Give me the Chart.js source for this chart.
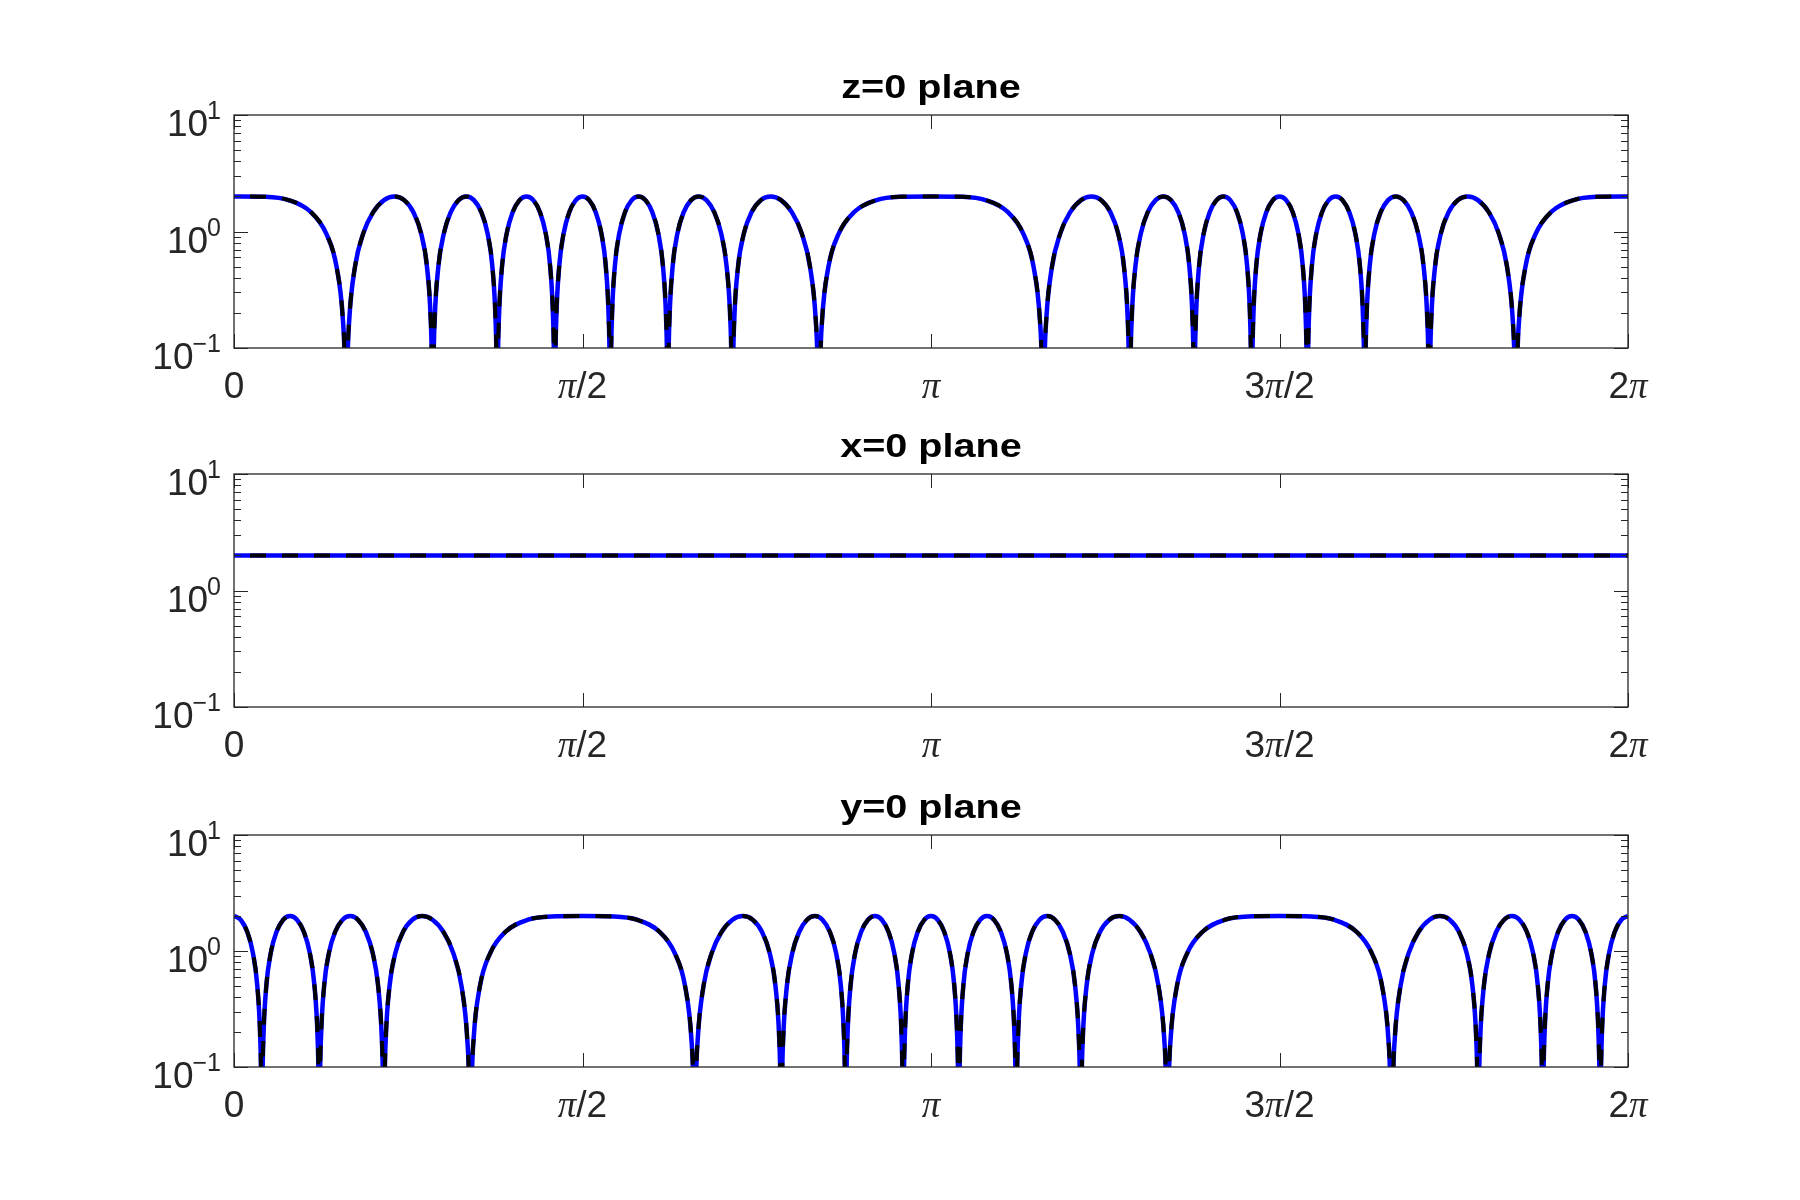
<!DOCTYPE html>
<html>
<head>
<meta charset="utf-8">
<script src="https://cdn.jsdelivr.net/npm/chart.js@4.4.1/dist/chart.umd.min.js"></script>
<style>
html,body{margin:0;padding:0;background:#ffffff;}
#wrap{position:relative;width:1800px;height:1200px;background:#ffffff;}
#wrap canvas{position:absolute;left:0;top:0;width:1800px;height:1200px;}
</style>
</head>
<body>
<div id="wrap">
<canvas id="c0" width="1800" height="1200"></canvas>
<canvas id="c1" width="1800" height="1200"></canvas>
<canvas id="c2" width="1800" height="1200"></canvas>
</div>
<script>
// ---------------- data ----------------
const panelTitles = ['z=0 plane', 'x=0 plane', 'y=0 plane'];

const xTickValues = [0, 1.5708, 3.1416, 4.7124, 6.2832];
const xTickLabels = ['0', 'π/2', 'π', '3π/2', '2π'];
const yMajorTicks = [0.1, 1, 10];
const yTickExponents = ['−1', '0', '1'];
const yMinorTicks = [0.2, 0.3, 0.4, 0.5, 0.6, 0.7, 0.8, 0.9, 2, 3, 4, 5, 6, 7, 8, 9];

// z=0 plane
const topX = [
0,0.1415,0.2456,0.3482,0.4153,0.4624,0.4907,0.4991,0.5054,
0.5115,0.5196,0.5452,0.5827,0.6266,0.6761,0.7227,0.7670,0.8093,0.8433,0.8698,0.8867,0.8918,0.8957,
0.8995,0.9046,0.9210,0.9459,0.9764,1.0122,1.0472,1.0815,1.1152,1.1429,1.1647,1.1788,1.1832,1.1864,
1.1896,1.1939,1.2079,1.2292,1.2556,1.2870,1.3181,1.3490,1.3796,1.4050,1.4253,1.4384,1.4424,1.4455,
1.4485,1.4525,1.4656,1.4857,1.5108,1.5408,1.5708,
1.6008,1.6308,1.6559,1.6760,1.6891,1.6931,1.6961,
1.6992,1.7032,1.7163,1.7366,1.7620,1.7926,1.8235,1.8546,1.8860,1.9124,1.9337,1.9477,1.9520,1.9552,
1.9584,1.9628,1.9769,1.9987,2.0264,2.0601,2.0944,2.1294,2.1652,2.1957,2.2206,2.2370,2.2421,2.2459,
2.2498,2.2549,2.2718,2.2983,2.3323,2.3746,2.4189,2.4655,2.5150,2.5589,2.5964,2.6220,2.6301,2.6362,
2.6425,2.6509,2.6792,2.7263,2.7934,2.8960,3.0000,3.1416,
3.2831,3.3872,3.4898,3.5569,3.6040,3.6323,3.6407,3.6470,
3.6531,3.6612,3.6868,3.7243,3.7682,3.8177,3.8643,3.9086,3.9509,3.9849,4.0114,4.0283,4.0334,4.0373,
4.0411,4.0462,4.0626,4.0875,4.1180,4.1538,4.1888,4.2231,4.2568,4.2844,4.3063,4.3204,4.3248,4.3280,
4.3312,4.3355,4.3495,4.3708,4.3972,4.4286,4.4597,4.4906,4.5212,4.5466,4.5669,4.5800,4.5840,4.5871,
4.5901,4.5941,4.6072,4.6273,4.6524,4.6824,4.7124,
4.7424,4.7724,4.7975,4.8176,4.8307,4.8347,4.8377,
4.8408,4.8448,4.8579,4.8782,4.9036,4.9342,4.9651,4.9962,5.0276,5.0540,5.0753,5.0893,5.0936,5.0968,
5.1000,5.1044,5.1185,5.1403,5.1680,5.2017,5.2360,5.2710,5.3068,5.3373,5.3622,5.3786,5.3837,5.3875,
5.3914,5.3965,5.4134,5.4399,5.4739,5.5162,5.5605,5.6071,5.6566,5.7005,5.7380,5.7636,5.7717,5.7778,
5.7841,5.7925,5.8208,5.8679,5.9350,6.0376,6.1417,6.2832
];
const topY = [
2,1.984,1.86,1.458,0.964,0.497,0.176,0.075,0.01,
0.075,0.176,0.497,0.964,1.458,1.86,2,1.86,1.458,0.964,0.497,0.176,0.075,0.01,
0.075,0.176,0.497,0.964,1.458,1.86,2,1.86,1.458,0.964,0.497,0.176,0.075,0.01,
0.075,0.176,0.497,0.964,1.458,1.86,2,1.86,1.458,0.964,0.497,0.176,0.075,0.01,
0.075,0.176,0.497,0.964,1.458,1.86,2,
1.86,1.458,0.964,0.497,0.176,0.075,0.01,
0.075,0.176,0.497,0.964,1.458,1.86,2,1.86,1.458,0.964,0.497,0.176,0.075,0.01,
0.075,0.176,0.497,0.964,1.458,1.86,2,1.86,1.458,0.964,0.497,0.176,0.075,0.01,
0.075,0.176,0.497,0.964,1.458,1.86,2,1.86,1.458,0.964,0.497,0.176,0.075,0.01,
0.075,0.176,0.497,0.964,1.458,1.86,1.984,2,
1.984,1.86,1.458,0.964,0.497,0.176,0.075,0.01,
0.075,0.176,0.497,0.964,1.458,1.86,2,1.86,1.458,0.964,0.497,0.176,0.075,0.01,
0.075,0.176,0.497,0.964,1.458,1.86,2,1.86,1.458,0.964,0.497,0.176,0.075,0.01,
0.075,0.176,0.497,0.964,1.458,1.86,2,1.86,1.458,0.964,0.497,0.176,0.075,0.01,
0.075,0.176,0.497,0.964,1.458,1.86,2,
1.86,1.458,0.964,0.497,0.176,0.075,0.01,
0.075,0.176,0.497,0.964,1.458,1.86,2,1.86,1.458,0.964,0.497,0.176,0.075,0.01,
0.075,0.176,0.497,0.964,1.458,1.86,2,1.86,1.458,0.964,0.497,0.176,0.075,0.01,
0.075,0.176,0.497,0.964,1.458,1.86,2,1.86,1.458,0.964,0.497,0.176,0.075,0.01,
0.075,0.176,0.497,0.964,1.458,1.86,1.984,2
];

// x=0 plane
const midX = [0, 6.2832];
const midY = [2, 2];

// y=0 plane
const botX = [
0,0.0300,0.0600,0.0851,0.1052,0.1183,0.1223,0.1253,
0.1284,0.1324,0.1455,0.1658,0.1912,0.2218,0.2527,0.2838,0.3152,0.3416,0.3629,0.3769,0.3812,0.3844,
0.3876,0.3920,0.4061,0.4280,0.4556,0.4893,0.5236,0.5586,0.5944,0.6249,0.6498,0.6662,0.6713,0.6751,
0.6790,0.6841,0.7010,0.7275,0.7615,0.8038,0.8481,0.8947,0.9442,0.9881,1.0256,1.0512,1.0593,1.0654,
1.0717,1.0801,1.1084,1.1555,1.2226,1.3252,1.4293,1.5708,
1.7123,1.8164,1.9190,1.9861,2.0332,2.0615,2.0699,2.0762,
2.0823,2.0904,2.1160,2.1535,2.1974,2.2469,2.2935,2.3378,2.3801,2.4141,2.4406,2.4575,2.4626,2.4665,
2.4703,2.4754,2.4918,2.5167,2.5472,2.5830,2.6180,2.6523,2.6860,2.7137,2.7355,2.7496,2.7540,2.7572,
2.7604,2.7647,2.7787,2.8000,2.8264,2.8578,2.8889,2.9198,2.9504,2.9758,2.9961,3.0092,3.0132,3.0163,
3.0193,3.0233,3.0364,3.0565,3.0816,3.1116,3.1416,
3.1716,3.2016,3.2267,3.2468,3.2599,3.2639,3.2669,
3.2700,3.2740,3.2871,3.3074,3.3328,3.3634,3.3943,3.4254,3.4568,3.4832,3.5045,3.5185,3.5228,3.5260,
3.5292,3.5336,3.5477,3.5695,3.5972,3.6309,3.6652,3.7002,3.7360,3.7665,3.7914,3.8078,3.8129,3.8167,
3.8206,3.8257,3.8426,3.8691,3.9031,3.9454,3.9897,4.0363,4.0858,4.1297,4.1672,4.1928,4.2009,4.2070,
4.2133,4.2217,4.2500,4.2971,4.3642,4.4668,4.5709,4.7124,
4.8539,4.9580,5.0606,5.1277,5.1748,5.2031,5.2115,5.2178,
5.2239,5.2320,5.2576,5.2951,5.3390,5.3885,5.4351,5.4794,5.5217,5.5557,5.5822,5.5991,5.6042,5.6081,
5.6119,5.6170,5.6334,5.6583,5.6888,5.7246,5.7596,5.7939,5.8276,5.8552,5.8771,5.8912,5.8956,5.8988,
5.9020,5.9063,5.9203,5.9416,5.9680,5.9994,6.0305,6.0614,6.0920,6.1174,6.1377,6.1508,6.1548,6.1579,
6.1609,6.1649,6.1780,6.1981,6.2232,6.2532,6.2832
];
const botY = [
2,1.86,1.458,0.964,0.497,0.176,0.075,0.01,
0.075,0.176,0.497,0.964,1.458,1.86,2,1.86,1.458,0.964,0.497,0.176,0.075,0.01,
0.075,0.176,0.497,0.964,1.458,1.86,2,1.86,1.458,0.964,0.497,0.176,0.075,0.01,
0.075,0.176,0.497,0.964,1.458,1.86,2,1.86,1.458,0.964,0.497,0.176,0.075,0.01,
0.075,0.176,0.497,0.964,1.458,1.86,1.984,2,
1.984,1.86,1.458,0.964,0.497,0.176,0.075,0.01,
0.075,0.176,0.497,0.964,1.458,1.86,2,1.86,1.458,0.964,0.497,0.176,0.075,0.01,
0.075,0.176,0.497,0.964,1.458,1.86,2,1.86,1.458,0.964,0.497,0.176,0.075,0.01,
0.075,0.176,0.497,0.964,1.458,1.86,2,1.86,1.458,0.964,0.497,0.176,0.075,0.01,
0.075,0.176,0.497,0.964,1.458,1.86,2,
1.86,1.458,0.964,0.497,0.176,0.075,0.01,
0.075,0.176,0.497,0.964,1.458,1.86,2,1.86,1.458,0.964,0.497,0.176,0.075,0.01,
0.075,0.176,0.497,0.964,1.458,1.86,2,1.86,1.458,0.964,0.497,0.176,0.075,0.01,
0.075,0.176,0.497,0.964,1.458,1.86,2,1.86,1.458,0.964,0.497,0.176,0.075,0.01,
0.075,0.176,0.497,0.964,1.458,1.86,1.984,2,
1.984,1.86,1.458,0.964,0.497,0.176,0.075,0.01,
0.075,0.176,0.497,0.964,1.458,1.86,2,1.86,1.458,0.964,0.497,0.176,0.075,0.01,
0.075,0.176,0.497,0.964,1.458,1.86,2,1.86,1.458,0.964,0.497,0.176,0.075,0.01,
0.075,0.176,0.497,0.964,1.458,1.86,2,1.86,1.458,0.964,0.497,0.176,0.075,0.01,
0.075,0.176,0.497,0.964,1.458,1.86,2
];

if (topX.length !== topY.length) throw new Error('top length mismatch ' + topX.length + ' vs ' + topY.length);
if (botX.length !== botY.length) throw new Error('bottom length mismatch ' + botX.length + ' vs ' + botY.length);

// ---------------- drawing ----------------
const SANS = '"Liberation Sans", Arial, Helvetica, sans-serif';
const SERIF = '"Liberation Serif", "DejaVu Serif", "Times New Roman", serif';
const TICK_COLOR = '#262626';
const TICK_SIZE = 37;
const EXP_SIZE = 25;
const TITLE_SIZE = 33;
const TITLE_STRETCH = 1.2;

function drawRuns(ctx, runs, x, y, align, sx) {
  let w = 0;
  runs.forEach(r => { ctx.font = r.font; r.w = ctx.measureText(r.t).width; w += r.w; });
  ctx.save();
  ctx.translate(x, y);
  ctx.scale(sx, 1);
  ctx.textAlign = 'left';
  ctx.textBaseline = 'alphabetic';
  let cx = align === 'center' ? -w / 2 : (align === 'right' ? -w : 0);
  runs.forEach(r => { ctx.font = r.font; ctx.fillText(r.t, cx, 0); cx += r.w; });
  ctx.restore();
  return w * sx;
}

function labelRuns(label) {
  const runs = [];
  for (const ch of label) {
    const f = ch === 'π' ? 'italic ' + TICK_SIZE + 'px ' + SERIF : TICK_SIZE + 'px ' + SANS;
    if (runs.length && runs[runs.length - 1].font === f) runs[runs.length - 1].t += ch;
    else runs.push({ t: ch, font: f });
  }
  return runs;
}

const matlabAxes = {
  id: 'matlabAxes',
  afterDatasetsDraw(chart, args, opts) {
    const { ctx, chartArea: a } = chart;
    const xs = chart.scales.x, ys = chart.scales.y;
    ctx.save();
    ctx.strokeStyle = TICK_COLOR;
    ctx.lineWidth = 1;
    ctx.beginPath();
    const yTick = (v, len) => {
      const p = Math.round(ys.getPixelForValue(v)) + 0.5;
      ctx.moveTo(a.left, p); ctx.lineTo(a.left + len, p);
      ctx.moveTo(a.right, p); ctx.lineTo(a.right - len, p);
    };
    yMajorTicks.forEach(v => yTick(v, 14));
    yMinorTicks.forEach(v => yTick(v, 7));
    xTickValues.forEach(v => {
      const p = Math.round(xs.getPixelForValue(v)) + 0.5;
      ctx.moveTo(p, a.bottom); ctx.lineTo(p, a.bottom - 14);
      ctx.moveTo(p, a.top); ctx.lineTo(p, a.top + 14);
    });
    ctx.stroke();
    ctx.lineWidth = 1.3;
    ctx.strokeRect(a.left, a.top, a.right - a.left, a.bottom - a.top);

    // x tick labels
    ctx.fillStyle = TICK_COLOR;
    xTickValues.forEach((v, i) => {
      drawRuns(ctx, labelRuns(xTickLabels[i]), xs.getPixelForValue(v), a.bottom + 50, 'center', 1);
    });
    // y tick labels (10 with superscript exponent)
    yMajorTicks.forEach((v, i) => {
      const p = ys.getPixelForValue(v);
      const ew = drawRuns(ctx, [{ t: yTickExponents[i], font: EXP_SIZE + 'px ' + SANS }], a.left - 13, p + 4, 'right', 1);
      drawRuns(ctx, [{ t: '10', font: TICK_SIZE + 'px ' + SANS }], a.left - 13 - ew + 1, p + 21, 'right', 1);
    });
    // title
    ctx.fillStyle = '#000000';
    drawRuns(ctx, [{ t: opts.title, font: 'bold ' + TITLE_SIZE + 'px ' + SANS }], (a.left + a.right) / 2, a.top - 17, 'center', TITLE_STRETCH);
    ctx.restore();
  }
};

function makePanel(id, title, xs, ys, padTop, padBottom) {
  const pts = xs.map((x, i) => ({ x: x, y: ys[i] }));
  new Chart(document.getElementById(id), {
    type: 'line',
    data: {
      datasets: [
        { label: 'dashed', data: pts, borderColor: '#000000', borderWidth: 4, borderDash: [16, 16], borderDashOffset: 16,
          pointRadius: 0, fill: false, cubicInterpolationMode: 'monotone', clip: 0, borderCapStyle: 'butt' },
        { label: 'solid', data: pts, borderColor: '#0000ff', borderWidth: 4.5,
          pointRadius: 0, fill: false, cubicInterpolationMode: 'monotone', clip: 0 }
      ]
    },
    options: {
      responsive: false,
      animation: false,
      devicePixelRatio: 1,
      layout: { padding: { left: 234, right: 172, top: padTop, bottom: padBottom } },
      elements: { line: { capBezierPoints: false } },
      scales: {
        x: { type: 'linear', min: 0, max: 6.2832, display: false },
        y: { type: 'logarithmic', min: 0.1, max: 10, display: false }
      },
      plugins: {
        legend: { display: false },
        tooltip: { enabled: false },
        matlabAxes: { title: title }
      },
      events: []
    },
    plugins: [matlabAxes]
  });
}

makePanel('c0', panelTitles[0], topX, topY, 115, 852);
makePanel('c1', panelTitles[1], midX, midY, 474, 493);
makePanel('c2', panelTitles[2], botX, botY, 835, 133);
</script>
</body>
</html>
